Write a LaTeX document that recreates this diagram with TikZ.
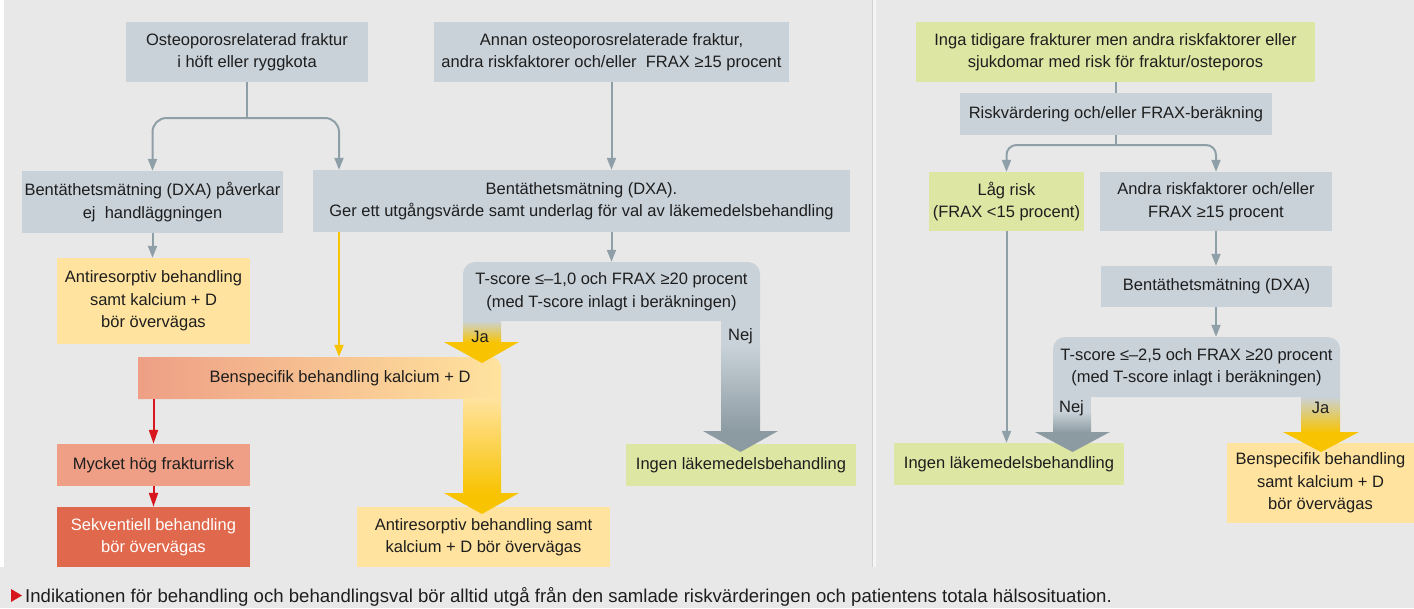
\documentclass[tikz,border=0pt]{standalone}
\usepackage{fontspec}
\setmainfont{Liberation Sans}
\usetikzlibrary{arrows.meta}
\definecolor{bgc}{HTML}{E8E8E8}
\definecolor{graybox}{HTML}{C9D2D9}
\definecolor{greenbox}{HTML}{DEE6A3}
\definecolor{yellowL}{HTML}{FFE39E}
\definecolor{salmon}{HTML}{EE9F85}
\definecolor{redor}{HTML}{E0684C}
\definecolor{gold}{HTML}{F8C300}
\definecolor{connc}{HTML}{8F9FA7}
\definecolor{darkg}{HTML}{8C9AA1}
\definecolor{redc}{HTML}{D7161E}
\definecolor{txt}{HTML}{1E1E1E}
\begin{document}
\begin{tikzpicture}[x=1pt,y=-1pt,
  nbox/.style={inner sep=0pt, align=center, text=txt, font=\fontsize{16.5pt}{22.5pt}\selectfont},
  gbox/.style={nbox, fill=graybox},
  grbox/.style={nbox, fill=greenbox},
  ybox/.style={nbox, fill=yellowL},
  lbl/.style={inner sep=0pt, text=txt, font=\fontsize{16.5pt}{20pt}\selectfont},
  cline/.style={draw=connc, line width=2pt},
  carr/.style={cline, -{Triangle[length=12pt,width=9pt]}},
  yarr/.style={draw=gold, line width=2pt, -{Triangle[length=12pt,width=9pt]}},
  rarr/.style={draw=redc, line width=2pt, -{Triangle[length=14pt,width=9pt]}}
]
\useasboundingbox (0,0) rectangle (1414,608);
% background
\fill[bgc] (0,0) rectangle (1414,608);
\fill[white] (0,0) rectangle (4,567);
\fill[white!96!black] (872,0) rectangle (876,567);
\fill[white!82!black] (872,0) rectangle (873,567);

% ---------- left T-score shape ----------
\fill[graybox] (463,321) -- (463,274) .. controls (463,267.4) and (468.4,262) .. (475,262) -- (748,262) .. controls (754.6,262) and (760,267.4) .. (760,274) -- (760,321) -- cycle;
\shade[top color=graybox, bottom color=gold] (463,320.5) rectangle (501,343);
\fill[graybox] (721,320.5) rectangle (760,346);
\shade[top color=graybox, bottom color=darkg] (721,345.5) rectangle (760,432);

% ---------- Benspecifik (left) shape ----------
\shade[left color=salmon, right color=yellowL] (138,399) -- (138,357) -- (491,357) .. controls (496.5,357) and (501,361.5) .. (501,367) -- (501,399) -- cycle;
\shade[top color=yellowL, bottom color=gold] (463,398.5) rectangle (501,494);
\fill[gold] (444,342) -- (519,342) -- (482,363) -- cycle;

% ---------- right T-score shape ----------
\fill[graybox] (1053,397) -- (1053,349) .. controls (1053,342.4) and (1058.4,337) .. (1065,337) -- (1328,337) .. controls (1334.6,337) and (1340,342.4) .. (1340,349) -- (1340,397) -- cycle;
\fill[graybox] (1053,396.5) rectangle (1091,412);
\shade[top color=graybox, bottom color=darkg] (1053,411.5) rectangle (1091,433);
\shade[top color=graybox, bottom color=gold] (1301,396.5) rectangle (1340,433);

% ---------- left panel nodes ----------
\node[gbox, minimum width=242pt, minimum height=60pt] (osteo) at (247,52) {Osteoporosrelaterad fraktur\\i höft eller ryggkota};
\node[gbox, minimum width=355pt, minimum height=60pt] (annan) at (611.5,52) {Annan osteoporosrelaterade fraktur,\\andra riskfaktorer och/eller\ \ FRAX ≥15 procent};
\node[gbox, minimum width=261pt, minimum height=62pt] (dxa1) at (152.5,202) {Bentäthetsmätning (DXA) påverkar\\ej\ \ handläggningen};
\node[gbox, minimum width=537pt, minimum height=62pt] (dxa2) at (581.5,201) {Bentäthetsmätning (DXA).\\Ger ett utgångsvärde samt underlag för val av läkemedelsbehandling};
\node[ybox, minimum width=193pt, minimum height=86pt] (anti1) at (153.5,301) {Antiresorptiv behandling\\samt kalcium + D\\bör övervägas};
\node[nbox, minimum width=297pt, minimum height=59pt] (t1) at (611.5,291.5) {T-score ≤–1,0 och FRAX ≥20 procent\\(med T-score inlagt i beräkningen)};
\node[nbox, minimum width=363pt, minimum height=42pt] (b1) at (319.5,378) {};
\node[nbox] (b1t) at (340,378) {Benspecifik behandling kalcium + D};
\node[nbox, fill=salmon, minimum width=193pt, minimum height=42pt] (myck) at (153.5,465) {Mycket hög frakturrisk};
\node[nbox, fill=redor, text=white, minimum width=193pt, minimum height=60pt] (sekv) at (153.5,537) {Sekventiell behandling\\bör övervägas};
\node[ybox, minimum width=253pt, minimum height=60pt] (anti2) at (483.5,537) {Antiresorptiv behandling samt\\kalcium + D bör övervägas};
\node[grbox, minimum width=230pt, minimum height=42pt] (ingen1) at (741,465) {Ingen läkemedelsbehandling};
\node[lbl] (ja1) at (480,337) {Ja};
\node[lbl] (nej1) at (740.5,336) {Nej};

% ---------- right panel nodes ----------
\node[grbox, minimum width=399pt, minimum height=60pt] (inga) at (1115.5,52) {Inga tidigare frakturer men andra riskfaktorer eller\\sjukdomar med risk för fraktur/osteporos};
\node[gbox, minimum width=312pt, minimum height=42pt] (risk) at (1116,114) {Riskvärdering och/eller FRAX-beräkning};
\node[grbox, minimum width=155pt, minimum height=59pt] (lag) at (1006.5,201.5) {Låg risk\\(FRAX <15 procent)};
\node[gbox, minimum width=232pt, minimum height=59pt] (andra) at (1216,201.5) {Andra riskfaktorer och/eller\\FRAX ≥15 procent};
\node[gbox, minimum width=231pt, minimum height=41pt] (dxa3) at (1216.5,286.5) {Bentäthetsmätning (DXA)};
\node[nbox, minimum width=287pt, minimum height=60pt] (t2) at (1196.5,367) {T-score ≤–2,5 och FRAX ≥20 procent\\(med T-score inlagt i beräkningen)};
\node[grbox, minimum width=230pt, minimum height=42pt] (ingen2) at (1009,464) {Ingen läkemedelsbehandling};
\node[ybox, minimum width=187pt, minimum height=80pt] (bens2) at (1320.5,483) {Benspecifik behandling\\samt kalcium + D\\bör övervägas};
\node[lbl] (nej2) at (1071.5,408) {Nej};
\node[lbl] (ja2) at (1320.5,408) {Ja};

% thick arrowheads drawn over the target boxes
\fill[darkg] (703,431) -- (778,431) -- (740.5,452) -- cycle;
\fill[gold] (444,493) -- (519,493) -- (482,514) -- cycle;
\fill[gold] (1283,432) -- (1359,432) -- (1321,452) -- cycle;
\fill[darkg] (1035,432) -- (1110,432) -- (1072.5,452) -- cycle;

% ---------- left connectors ----------
\coordinate (f1) at (247,118);
\coordinate (r1x) at (339,0);
\draw[cline] (osteo.south) -- (f1);
\draw[carr, rounded corners=14pt] (f1) -| (dxa1.north);
\draw[carr, rounded corners=14pt] (f1) -| (dxa2.north -| r1x);
\draw[carr] (annan.south) -- (annan.south |- dxa2.north);
\draw[carr] (dxa1.south) -- (dxa1.south |- anti1.north);
\draw[yarr] (dxa2.south -| r1x) -- (b1.north -| r1x);
\draw[carr] (annan.south |- dxa2.south) -- (annan.south |- t1.north);
\draw[rarr] (myck.north |- b1.south) -- (myck.north);
\draw[rarr] (myck.south) -- (sekv.north);

% ---------- right connectors ----------
\coordinate (f2) at (1116,145);
\draw[cline] (inga.south) -- (inga.south |- risk.north);
\draw[cline] (risk.south) -- (f2);
\draw[carr, rounded corners=10pt] (f2) -| (lag.north);
\draw[carr, rounded corners=10pt] (f2) -| (andra.north);
\draw[carr] (andra.south) -- (andra.south |- dxa3.north);
\draw[carr] (andra.south |- dxa3.south) -- (andra.south |- t2.north);
\draw[carr] (lag.south) -- (lag.south |- ingen2.north);

% ---------- caption ----------
\fill[redc] (11,589) -- (22,595.5) -- (11,602) -- cycle;
\node[inner sep=0pt, anchor=base west, text=txt, font=\fontsize{18.6pt}{22pt}\selectfont] (cap) at (25,602) {Indikationen för behandling och behandlingsval bör alltid utgå från den samlade riskvärderingen och patientens totala hälsosituation.};
\end{tikzpicture}
\end{document}
